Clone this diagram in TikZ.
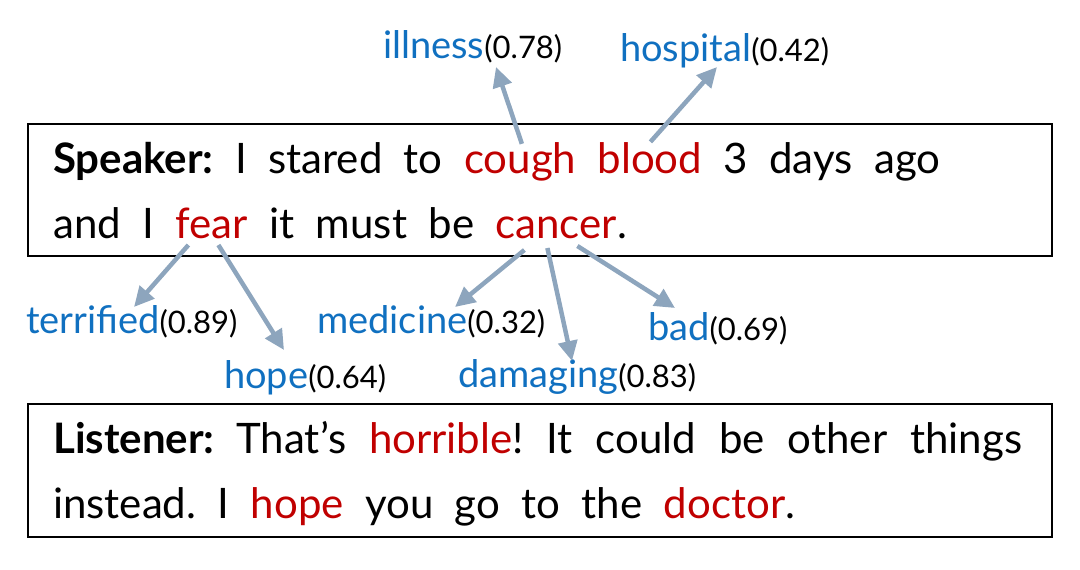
\documentclass[tikz,border=0pt]{standalone}
\usepackage{fontspec}
\setmainfont{Lato}
\usetikzlibrary{arrows.meta}
\definecolor{wred}{RGB}{192,0,0}
\definecolor{lblue}{RGB}{16,112,192}
\definecolor{arrc}{RGB}{141,165,189}
\newcommand\wfont{\fontsize{42}{50}\selectfont}
\newcommand\lfont{\fontsize{38}{45}\selectfont}
\newcommand\nfont{\fontsize{31}{37}\selectfont}
\frenchspacing
\begin{document}
\begin{tikzpicture}[x=1pt,y=-1pt,
  w/.style={anchor=base west, inner sep=0pt, font=\wfont},
  bw/.style={w, font=\wfont\bfseries},
  nx/.style={w, xshift=21pt},
  lab/.style={anchor=base west, inner sep=0pt},
  arrowline/.style={draw=arrc, line width=4.5pt, -{Triangle[length=20pt,width=19pt]}},
  box/.style={draw, line width=2.6pt, inner sep=0pt}]
\useasboundingbox (0,0) rectangle (1080,570);
% boxes
\node[box, minimum width=1024pt, minimum height=132pt] (spkbox) at (540,190) {};
\node[box, minimum width=1024pt, minimum height=133pt] (lisbox) at (540,470.5) {};
% speaker line 1
\node[bw] (s1) at (53,173) {Speaker:};
\node[nx] (s2) at (s1.base east) {I};
\node[nx] (s3) at (s2.base east) {stared};
\node[nx] (s4) at (s3.base east) {to};
\node[nx, text=wred] (cough) at (s4.base east) {cough};
\node[nx, text=wred] (blood) at (cough.base east) {blood};
\node[nx] (s7) at (blood.base east) {3};
\node[nx] (s8) at (s7.base east) {days};
\node[nx] (s9) at (s8.base east) {ago};
% speaker line 2
\node[w] (t1) at (53,238) {and};
\node[nx] (t2) at (t1.base east) {I};
\node[nx, text=wred] (fear) at (t2.base east) {fear};
\node[nx] (t4) at (fear.base east) {it};
\node[nx] (t5) at (t4.base east) {must};
\node[nx] (t6) at (t5.base east) {be};
\node[nx, text=wred] (cancer) at (t6.base east) {cancer};
\node[w] (t8) at (cancer.base east) {.};
% listener
\node[w] (lis1) at (53,453) {\makebox[969pt][s]{\bfseries Listener: \mdseries That’s \textcolor{wred}{horrible}! It could be other things}};
\node[w] (lis2) at (53,518) {\makebox[742pt][s]{instead. I \textcolor{wred}{hope} you go to the \textcolor{wred}{doctor}.}};
% labels
\node[lab] (ill) at (383,58) {\lfont\textcolor{lblue}{illness}\nfont(0.78)};
\node[lab] (hosp) at (620,61) {\lfont\textcolor{lblue}{hospital}\nfont(0.42)};
\node[lab] (terr) at (26,333) {\lfont\textcolor{lblue}{terrified}\nfont(0.89)};
\node[lab] (med) at (317,333) {\lfont\textcolor{lblue}{medicine}\nfont(0.32)};
\node[lab] (bad) at (648,340) {\lfont\textcolor{lblue}{bad}\nfont(0.69)};
\node[lab] (hope) at (224,388) {\lfont\textcolor{lblue}{hope}\nfont(0.64)};
\node[lab] (dam) at (458,387) {\lfont\textcolor{lblue}{damaging}\nfont(0.83)};
% arrows
\draw[arrowline] ([xshift=58pt,yshift=-2pt]cough.north west) -- ([xshift=113pt,yshift=-9pt]ill.base west);
\draw[arrowline] ([xshift=53pt,yshift=0pt]blood.north west) -- ([xshift=97pt,yshift=-6pt]hosp.base west);
\draw[arrowline] ([xshift=13pt,yshift=-7pt]fear.base west) -- ([xshift=108pt,yshift=26pt]terr.base west);
\draw[arrowline] ([xshift=43pt,yshift=-7pt]fear.base west) -- ([xshift=60pt,yshift=38pt]hope.base west);
\draw[arrowline] ([xshift=29pt,yshift=-12pt]cancer.base west) -- ([xshift=138pt,yshift=26pt]med.base west);
\draw[arrowline] ([xshift=52pt,yshift=-10pt]cancer.base west) -- ([xshift=114pt,yshift=26pt]dam.base west);
\draw[arrowline] ([xshift=82pt,yshift=-8pt]cancer.base west) -- ([xshift=27pt,yshift=32pt]bad.base west);
\end{tikzpicture}
\end{document}
